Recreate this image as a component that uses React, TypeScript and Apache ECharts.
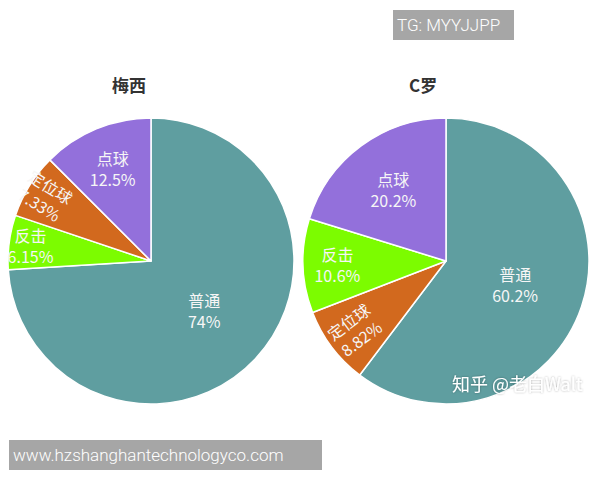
import React, { useEffect, useRef } from 'react';
import * as echarts from 'echarts';

// 梅西 (clockwise from 12 o'clock)
const messiNames = ['普通', '反击', '定位球', '点球'];
const messiValues = [74, 6.15, 7.33, 12.5];
// C罗
const ronaldoNames = ['普通', '定位球', '反击', '点球'];
const ronaldoValues = [60.2, 8.82, 10.6, 20.2];

const sliceColors: Record<string, string> = {
  普通: '#5f9ea0',
  反击: '#7cfc00',
  定位球: '#d2691e',
  点球: '#9370db',
};

// how far out (fraction of radius) each label sits, and which labels are rotated radially
const messiLabelDist = [0.51, 0.85, 0.87, 0.7];
const messiLabelRot = [false, false, true, false];
const ronaldoLabelDist = [0.51, 0.8, 0.76, 0.62];
const ronaldoLabelRot = [false, true, false, false];

const R = 143;

const makeLayout = (cx: number, cy: number, values: number[], dist: number[], rot: boolean[]) => {
  const total = values.reduce((a, b) => a + b, 0);
  return (params: any) => {
    const i = params.dataIndex;
    let start = 0;
    for (let k = 0; k < i; k++) start += values[k];
    const mid = ((start + values[i] / 2) / total) * 2 * Math.PI; // clockwise from top
    const dx = Math.sin(mid);
    const dy = -Math.cos(mid);
    let rotate = 0;
    if (rot[i]) {
      let a = (Math.atan2(-dy, dx) * 180) / Math.PI;
      if (a > 90) a -= 180;
      if (a < -90) a += 180;
      rotate = a;
    }
    return { x: cx + dx * R * dist[i], y: cy + dy * R * dist[i], rotate, align: 'center', verticalAlign: 'middle' };
  };
};

const pieSeries = (cx: number, cy: number, names: string[], values: number[], dist: number[], rot: boolean[]) => ({
  type: 'pie',
  center: [cx, cy],
  radius: R,
  startAngle: 90,
  clockwise: true,
  avoidLabelOverlap: false,
  data: names.map((n, i) => ({ name: n, value: values[i], itemStyle: { color: sliceColors[n] } })),
  itemStyle: { borderColor: '#ffffff', borderWidth: 1.5 },
  label: {
    show: true,
    position: 'inside',
    formatter: '{b}\n{c}%',
    color: '#f6f6f6',
    fontSize: 16,
    lineHeight: 21,
    fontFamily: '"Noto Sans CJK SC", "Noto Sans", sans-serif',
  },
  labelLine: { show: false },
  labelLayout: makeLayout(cx, cy, values, dist, rot),
  emphasis: { disabled: true },
});

const App = () => {
  const chartRef = useRef<any>(null);

  useEffect(() => {
    const chart = echarts.init(chartRef.current, null, { renderer: 'svg' });

    const option: any = {
      animation: false,
      backgroundColor: '#ffffff',
      series: [
        pieSeries(151, 261, messiNames, messiValues, messiLabelDist, messiLabelRot),
        pieSeries(446, 261, ronaldoNames, ronaldoValues, ronaldoLabelDist, ronaldoLabelRot),
      ],
      graphic: [
        {
          type: 'text',
          left: 112,
          top: 76,
          style: { text: '梅西', fill: '#333', font: 'bold 17px "Noto Sans CJK SC"' },
        },
        {
          type: 'text',
          left: 409,
          top: 76,
          style: { text: 'C罗', fill: '#333', font: 'bold 17px "Noto Sans CJK SC"' },
        },
        // watermark boxes
        { type: 'rect', z: 100, shape: { x: 393, y: 10, width: 121, height: 30 }, style: { fill: '#a6a6a6' } },
        {
          type: 'text',
          z: 101,
          x: 397,
          y: 25,
          style: { text: 'TG: MYYJJPP', fill: '#ffffff', font: '300 17px Roboto', verticalAlign: 'middle' },
        },
        { type: 'rect', z: 100, shape: { x: 9, y: 440, width: 313, height: 30 }, style: { fill: '#a6a6a6' } },
        {
          type: 'text',
          z: 101,
          x: 13,
          y: 455,
          style: { text: 'www.hzshanghantechnologyco.com', fill: '#ffffff', font: '300 17px Roboto', verticalAlign: 'middle' },
        },
        {
          type: 'text',
          z: 101,
          x: 452,
          y: 383,
          style: {
            text: '知乎 @老白Walt',
            fill: '#ffffff',
            font: '18px "Noto Sans CJK SC"',
            verticalAlign: 'middle',
            textShadowColor: 'rgba(0,0,0,0.35)',
            textShadowBlur: 2,
          },
        },
      ],
    };

    chart.setOption(option);

    return () => {
      chart.dispose();
    };
  }, []);

  return (
    <div
      ref={chartRef}
      style={{ position: 'absolute', left: 0, top: 0, width: '600px', height: '480px' }}
    />
  );
};

export default App;
